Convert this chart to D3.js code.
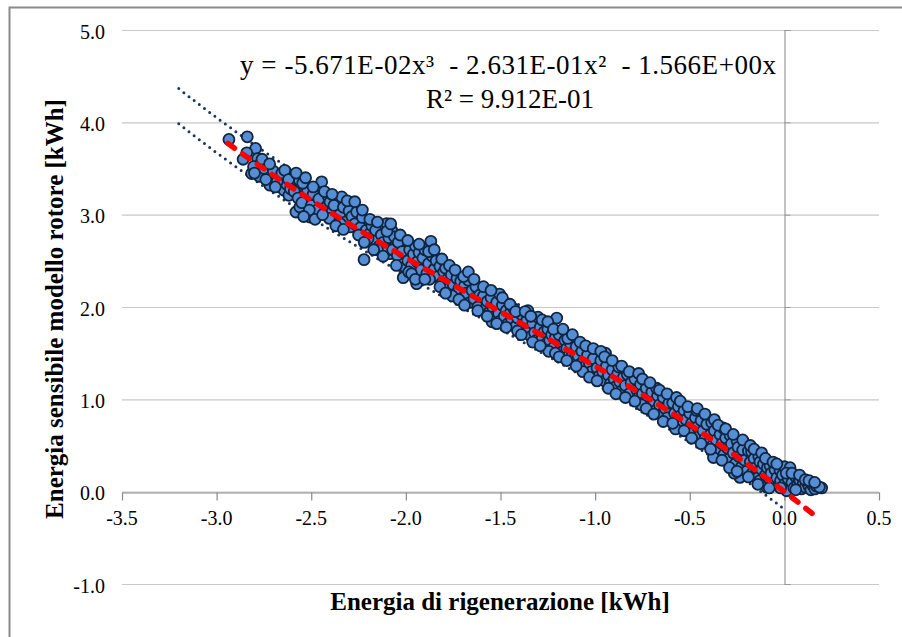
<!DOCTYPE html>
<html>
<head>
<meta charset="utf-8">
<script src="https://d3js.org/d3.v7.min.js"></script>
<style>
  html, body { margin: 0; padding: 0; background: #fff; }
  svg { display: block; }
</style>
</head>
<body>
<svg id="chart" width="902" height="637"></svg>
<script>
// ---------------- DATA ----------------
const xTicks = [-3.5, -3.0, -2.5, -2.0, -1.5, -1.0, -0.5, 0.0, 0.5];
const yTicks = [-1.0, 0.0, 1.0, 2.0, 3.0, 4.0, 5.0];
const xTitle = "Energia di rigenerazione [kWh]";
const yTitle = "Energia sensibile modello rotore [kWh]";
const eqLine1 = "y = -5.671E-02x³  - 2.631E-01x²  - 1.566E+00x";
const eqLine2 = "R² = 9.912E-01";
// trendline coefficients: y = a*x^3 + b*x^2 + c*x
const trendCoef = [-5.671e-2, -2.631e-1, -1.566];
const trendRange = [-2.94, 0.18];
const bandRange = [-3.2, 0.0];
const bandOffsets = [0.19, -0.19];

const points = [
[-2.935,3.815],[-2.838,3.843],[-2.794,3.717],[-2.841,3.670],[-2.783,3.608],[-2.771,3.547],[-2.815,3.446],[-2.775,3.416],[-2.805,3.52],
[-2.727,3.427],[-2.692,3.427],[-2.718,3.319],[-2.674,3.337],[-2.644,3.265],[-2.603,3.355],[-2.618,3.210],[-2.75,3.50],[-2.70,3.47],[-2.66,3.40],[-2.63,3.33],[-2.61,3.28],[-2.68,3.36],[-2.74,3.38],[-2.655,3.45],
[-2.563,3.373],[-2.533,3.283],[-2.524,3.210],[-2.581,3.029],[-2.507,2.975],[-2.560,3.084],[-2.480,3.156],[-2.445,3.355],[-2.454,3.210],[-2.436,3.120],[-2.59,3.25],[-2.57,3.18],[-2.55,3.13],[-2.52,3.27],[-2.50,3.10],[-2.49,3.22],[-2.47,3.05],[-2.46,3.17],[-2.42,3.08],[-2.41,3.20],[-2.545,3.34],[-2.51,3.05],
[-2.401,3.138],[-2.357,3.066],[-2.339,3.192],[-2.375,2.975],[-2.313,2.975],[-2.278,3.120],[-2.295,2.867],[-2.252,2.939],[-2.216,2.903],[-2.39,3.03],[-2.38,3.10],[-2.365,2.93],[-2.35,3.00],[-2.33,3.08],[-2.32,2.92],[-2.30,3.04],[-2.285,2.98],[-2.27,2.90],[-2.26,3.03],[-2.24,2.86],[-2.23,2.97],[-2.21,2.83],[-2.345,2.90],[-2.405,2.96],
[-2.190,2.795],[-2.221,2.513],[-2.154,2.758],[-2.137,2.867],[-2.101,2.903],[-2.075,2.831],[-2.058,2.668],[-2.084,2.578],[-2.031,2.650],[-2.014,2.318],[-2.005,2.433],[-2.18,2.88],[-2.17,2.72],[-2.16,2.83],[-2.14,2.66],[-2.13,2.78],[-2.12,2.70],[-2.11,2.60],[-2.09,2.75],[-2.07,2.62],[-2.06,2.76],[-2.045,2.56],[-2.04,2.70],[-2.02,2.60],[-2.20,2.74],[-2.15,2.62],
[-1.99,2.50],[-1.98,2.62],[-1.97,2.45],[-1.96,2.57],[-1.943,2.253],[-1.95,2.66],[-1.94,2.49],[-1.93,2.59],[-1.92,2.40],[-1.91,2.53],[-1.90,2.62],[-1.89,2.36],[-1.88,2.47],[-1.868,2.711],[-1.86,2.55],[-1.85,2.41],[-1.84,2.50],[-1.83,2.33],[-1.82,2.44],[-1.81,2.26],[-1.80,2.38],[-1.985,2.38],[-1.875,2.30],
[-1.79,2.42],[-1.78,2.30],[-1.775,2.20],[-1.76,2.35],[-1.75,2.24],[-1.74,2.14],[-1.73,2.31],[-1.72,2.20],[-1.71,2.28],[-1.70,2.10],[-1.69,2.23],[-1.68,2.15],[-1.67,2.29],[-1.66,2.05],[-1.65,2.18],[-1.64,2.09],[-1.63,2.22],[-1.62,2.00],[-1.61,2.13],[-1.755,2.12],[-1.695,2.33],
[-1.59,2.12],[-1.58,1.98],[-1.57,2.06],[-1.56,1.94],[-1.55,2.10],[-1.54,1.99],[-1.53,1.90],[-1.52,2.05],[-1.51,1.93],[-1.50,1.85],[-1.49,2.02],[-1.48,1.90],[-1.47,1.96],[-1.46,1.82],[-1.45,1.93],[-1.44,1.86],[-1.43,1.98],[-1.42,1.79],[-1.41,1.88],[-1.505,2.14],[-1.545,1.84],
[-1.39,1.92],[-1.38,1.80],[-1.37,1.74],[-1.36,1.86],[-1.35,1.76],[-1.34,1.68],[-1.33,1.82],[-1.32,1.72],[-1.31,1.64],[-1.302,1.89],[-1.29,1.78],[-1.28,1.66],[-1.27,1.73],[-1.26,1.60],[-1.25,1.76],[-1.24,1.64],[-1.23,1.70],[-1.22,1.56],[-1.21,1.67],[-1.203,1.88],[-1.355,1.96],[-1.245,1.52],
[-1.19,1.70],[-1.18,1.58],[-1.17,1.52],[-1.16,1.64],[-1.15,1.55],[-1.14,1.47],[-1.13,1.60],[-1.12,1.50],[-1.11,1.44],[-1.10,1.57],[-1.09,1.47],[-1.08,1.38],[-1.07,1.52],[-1.06,1.42],[-1.05,1.36],[-1.04,1.48],[-1.03,1.39],[-1.02,1.30],[-1.01,1.44],[-1.145,1.66],[-1.065,1.30],
[-0.99,1.34],[-0.98,1.25],[-0.97,1.42],[-0.96,1.30],[-0.95,1.20],[-0.94,1.36],[-0.93,1.26],[-0.92,1.17],[-0.91,1.32],[-0.90,1.22],[-0.89,1.14],[-0.88,1.28],[-0.87,1.19],[-0.86,1.09],[-0.85,1.24],[-0.84,1.15],[-0.83,1.27],[-0.82,1.06],[-0.81,1.18],[-0.945,1.50],[-0.875,1.35],
[-0.79,1.22],[-0.78,1.10],[-0.77,1.02],[-0.76,1.16],[-0.75,1.06],[-0.74,0.97],[-0.73,1.12],[-0.72,1.01],[-0.71,0.93],[-0.70,1.08],[-0.69,0.97],[-0.68,0.88],[-0.67,1.04],[-0.66,0.94],[-0.65,0.84],[-0.64,1.02],[-0.63,0.90],[-0.62,0.80],[-0.61,0.96],[-0.755,0.94],[-0.675,1.12],
[-0.59,0.96],[-0.58,0.85],[-0.57,0.76],[-0.56,0.92],[-0.55,0.82],[-0.54,0.72],[-0.53,0.88],[-0.52,0.78],[-0.51,0.68],[-0.50,0.85],[-0.49,0.74],[-0.48,0.64],[-0.47,0.80],[-0.46,0.70],[-0.45,0.60],[-0.44,0.77],[-0.43,0.66],[-0.42,0.57],[-0.41,0.73],[-0.575,0.68],[-0.465,0.88],[-0.405,0.52],
[-0.39,0.62],[-0.384,0.75],[-0.38,0.50],[-0.37,0.66],[-0.36,0.56],[-0.35,0.44],[-0.34,0.62],[-0.33,0.52],[-0.324,0.69],[-0.32,0.40],[-0.31,0.58],[-0.30,0.47],[-0.29,0.36],[-0.287,0.61],[-0.28,0.52],[-0.27,0.42],[-0.26,0.30],[-0.25,0.55],[-0.245,0.48],[-0.24,0.38],[-0.235,0.155],[-0.23,0.26],[-0.22,0.45],[-0.21,0.34],[-0.20,0.22],[-0.375,0.37],[-0.265,0.20],
[-0.19,0.44],[-0.18,0.32],[-0.173,0.43],[-0.17,0.20],[-0.16,0.36],[-0.15,0.26],[-0.14,0.15],[-0.135,0.38],[-0.129,0.32],[-0.129,0.12],[-0.12,0.24],[-0.11,0.30],[-0.10,0.18],[-0.094,0.05],[-0.09,0.26],[-0.08,0.14],[-0.076,0.28],[-0.07,0.20],[-0.06,0.09],[-0.05,0.24],[-0.04,0.15],[-0.03,0.06],[-0.023,0.23],[-0.02,0.12],[-0.01,0.18],[0.0,0.08],
[0.012,0.01],[0.02,0.14],[0.03,0.23],[0.04,0.10],[0.05,0.04],[0.06,0.16],[0.07,0.08],[0.08,0.12],[0.082,0.12],[0.09,0.03],[0.10,0.09],[0.11,0.05],[0.12,0.10],[0.13,0.06],[0.14,0.02],[0.15,0.07],[0.161,0.03],[0.17,0.06],[0.197,0.04],[0.185,0.05],[0.0,0.27],[0.03,0.26],
[-2.86,3.60],[-2.80,3.45],[-2.76,3.60],[-2.72,3.55],[-2.69,3.30],[-2.64,3.48],[-2.62,3.38],
[-2.58,3.45],[-2.54,2.98],[-2.53,3.40],[-2.49,3.30],[-2.48,2.95],[-2.44,3.00],[-2.43,3.25],
[-2.39,3.22],[-2.37,2.88],[-2.33,2.84],[-2.31,3.15],[-2.27,3.14],[-2.25,2.78],[-2.23,3.05],[-2.22,2.70],
[-2.19,2.95],[-2.17,2.62],[-2.15,2.92],[-2.12,2.55],[-2.10,2.82],[-2.08,2.90],[-2.05,2.45],[-2.03,2.78],
[-1.99,2.72],[-1.97,2.36],[-1.95,2.30],[-1.93,2.68],[-1.90,2.30],[-1.88,2.60],[-1.85,2.62],[-1.82,2.22],[-1.81,2.52],
[-1.79,2.15],[-1.77,2.45],[-1.74,2.40],[-1.72,2.08],[-1.69,2.02],[-1.67,2.38],[-1.64,2.30],[-1.62,1.96],
[-1.59,2.22],[-1.57,1.90],[-1.55,2.18],[-1.52,1.82],[-1.49,2.10],[-1.47,1.78],[-1.45,2.03],[-1.42,1.95],[-1.41,1.74],
[-1.39,1.70],[-1.37,1.95],[-1.34,1.90],[-1.33,1.62],[-1.29,1.58],[-1.28,1.86],[-1.25,1.84],[-1.22,1.76],[-1.21,1.50],
[-1.19,1.46],[-1.17,1.76],[-1.15,1.42],[-1.12,1.70],[-1.10,1.36],[-1.08,1.62],[-1.05,1.58],[-1.03,1.24],[-1.01,1.55],
[-0.99,1.20],[-0.97,1.52],[-0.95,1.46],[-0.93,1.12],[-0.91,1.42],[-0.89,1.06],[-0.86,1.36],[-0.84,1.02],[-0.82,1.30],
[-0.79,0.98],[-0.77,1.28],[-0.75,1.22],[-0.73,0.90],[-0.71,1.18],[-0.69,0.84],[-0.66,1.10],[-0.64,0.76],[-0.62,1.06],
[-0.59,0.74],[-0.57,1.02],[-0.55,0.98],[-0.53,0.66],[-0.51,0.92],[-0.49,0.58],[-0.46,0.90],[-0.44,0.52],[-0.42,0.84],
[-0.39,0.46],[-0.37,0.78],[-0.35,0.72],[-0.33,0.34],[-0.31,0.68],[-0.29,0.26],[-0.27,0.62],[-0.25,0.22],[-0.22,0.56],
[-0.19,0.16],[-0.18,0.50],[-0.16,0.46],[-0.14,0.08],[-0.12,0.42],[-0.10,0.36],[-0.08,0.04],[-0.06,0.32],[-0.04,0.30],[-0.02,0.04],
[0.01,0.20],[0.04,0.20],[0.06,0.02],[0.08,0.18],[0.11,0.13],[0.13,0.12],[0.16,0.10]
];

// ---------------- DRAW ----------------
const FONT = '"Liberation Serif", "Times New Roman", serif';
const svg = d3.select("#chart");
const x = d3.scaleLinear().domain([-3.5, 0.5]).range([122, 879]);
const y = d3.scaleLinear().domain([-1, 5]).range([584, 30]);

// outer border
svg.append("rect").attr("x", 9.5).attr("y", 7.5).attr("width", 1000).attr("height", 1000)
  .attr("fill", "none").attr("stroke", "#8a8a8a").attr("stroke-width", 2);

// gridlines
svg.append("g").selectAll("line").data(yTicks).join("line")
  .attr("x1", x(-3.5)).attr("x2", x(0.5))
  .attr("y1", d => y(d) + 0.5).attr("y2", d => y(d) + 0.5)
  .attr("stroke", "#c8c8c8").attr("stroke-width", 1.2);

// y axis (crosses at x = 0)
const yAxisG = svg.append("g").attr("transform", `translate(${Math.round(x(0)) + 0.5},0)`)
  .call(d3.axisRight(y).tickValues(yTicks).tickSize(6).tickFormat(""));
yAxisG.select(".domain").attr("stroke", "#9a9a9a").attr("stroke-width", 1.2);
yAxisG.selectAll(".tick line").attr("stroke", "#9a9a9a");

// y tick labels at left
svg.append("g").selectAll("text").data(yTicks).join("text")
  .style("font-family", FONT)
  .attr("x", 105).attr("y", d => y(d) + 8.5)
  .attr("text-anchor", "end").attr("font-size", 20)
  .text(d => d.toFixed(1));

// x axis (crosses at y = 0)
const xAxisG = svg.append("g").attr("transform", `translate(0,${Math.round(y(0)) + 0.5})`)
  .call(d3.axisBottom(x).tickValues(xTicks).tickSize(8).tickSizeOuter(0).tickFormat(""));
xAxisG.select(".domain").attr("stroke", "#8a8a8a").attr("stroke-width", 1.2);
xAxisG.selectAll(".tick line").attr("stroke", "#8a8a8a").attr("stroke-width", 1.2);

svg.append("g").selectAll("text").data(xTicks).join("text")
  .style("font-family", FONT)
  .attr("x", d => x(d)).attr("y", y(0) + 33)
  .attr("text-anchor", "middle").attr("font-size", 20)
  .text(d => d.toFixed(1));

// trend function from coefficients
const trend = v => trendCoef[0] * v * v * v + trendCoef[1] * v * v + trendCoef[2] * v;

// dotted bands
const bandXs = d3.range(bandRange[0], bandRange[1] + 1e-9, 0.02);
bandOffsets.forEach(off => {
  svg.append("path")
    .attr("d", d3.line().x(v => x(v)).y(v => y(trend(v) + off))(bandXs))
    .attr("fill", "none").attr("stroke", "#17375e").attr("stroke-width", 3)
    .attr("stroke-linecap", "round").attr("stroke-dasharray", "0,6.5");
});

// scatter points
svg.append("g").selectAll("circle").data(points).join("circle")
  .attr("cx", d => x(d[0])).attr("cy", d => y(d[1])).attr("r", 5.5)
  .attr("fill", "#558ed5").attr("stroke", "#10253f").attr("stroke-width", 1.8);

// red polynomial trendline
const trendXs = d3.range(trendRange[0], trendRange[1] + 1e-9, 0.01);
svg.append("path")
  .attr("d", d3.line().x(v => x(v)).y(v => y(trend(v)))(trendXs))
  .attr("fill", "none").attr("stroke", "#ff0000").attr("stroke-width", 5.5)
  .attr("stroke-linecap", "round").attr("stroke-dasharray", "8,10");

// equation labels
svg.append("text").style("font-family", FONT).attr("x", 508).attr("y", 74).attr("text-anchor", "middle")
  .attr("font-size", 27).attr("textLength", 536).attr("lengthAdjust", "spacing")
  .style("white-space", "pre").text(eqLine1);
svg.append("text").style("font-family", FONT).attr("x", 510).attr("y", 108).attr("text-anchor", "middle")
  .attr("font-size", 27).text(eqLine2);

// axis titles
svg.append("text").style("font-family", FONT).attr("x", 500).attr("y", 610).attr("text-anchor", "middle")
  .attr("font-size", 25).attr("font-weight", "bold").text(xTitle);
svg.append("text").style("font-family", FONT).attr("transform", "translate(63,309) rotate(-90)")
  .attr("text-anchor", "middle").attr("font-size", 25).attr("font-weight", "bold").text(yTitle);
</script>
</body>
</html>
